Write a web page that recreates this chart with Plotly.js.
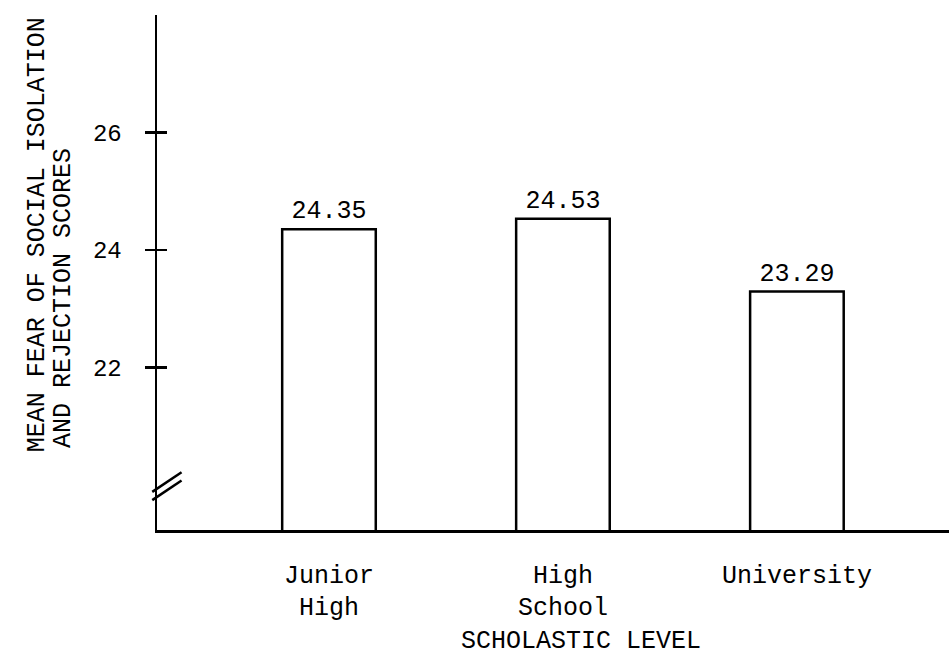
<!DOCTYPE html>
<html>
<head>
<meta charset="utf-8">
<script src="https://cdn.plot.ly/plotly-3.0.1.min.js"></script>
<style>html,body{margin:0;padding:0;background:#fff;}</style>
</head>
<body>
<div id="chart" style="width:949px;height:658px;"></div>
<script>
const categories = ["Junior<br>High", "High<br>School", "University"];
const meanScores = [24.35, 24.53, 23.29];
const valueLabels = ["24.35", "24.53", "23.29"];
const yTickValues = [22, 24, 26];
const yTickLabels = ["22", "24", "26"];

const FONT = "Liberation Mono, Courier New, monospace";
const yRange = [19.23, 28];

const trace = {
  type: "bar",
  x: categories,
  y: meanScores,
  text: valueLabels,
  textposition: "outside",
  textfont: {family: FONT, size: 25, color: "#000"},
  cliponaxis: false,
  marker: {color: "#fff", line: {color: "#000", width: 2.5}},
  hoverinfo: "skip"
};

const layout = {
  width: 949, height: 658,
  margin: {l: 157, r: 0, t: 15, b: 128},
  paper_bgcolor: "#fff", plot_bgcolor: "#fff",
  showlegend: false,
  bargap: 0.6,
  font: {family: FONT, color: "#000"},
  xaxis: {
    type: "category",
    range: [-0.735, 2.65],
    showline: true, linecolor: "#000", linewidth: 2.5,
    showgrid: false, zeroline: false, ticks: "",
    tickfont: {family: FONT, size: 25, color: "#000"},
    ticklabelstandoff: 20
  },
  yaxis: {
    range: yRange,
    showline: true, linecolor: "#000", linewidth: 2.5,
    showgrid: false, zeroline: false,
    tickmode: "array", tickvals: yTickValues, ticktext: yTickLabels,
    ticks: "outside", ticklen: 10, tickwidth: 2.5, tickcolor: "#000",
    tickfont: {family: FONT, size: 24, color: "#000"},
    ticklabelstandoff: 18
  },
  yaxis2: {
    overlaying: "y", range: yRange,
    showline: false, showgrid: false, zeroline: false,
    tickmode: "array", tickvals: yTickValues,
    ticks: "inside", ticklen: 10, tickwidth: 2.5, tickcolor: "#000",
    showticklabels: false
  },
  shapes: [
    {type: "line", xref: "paper", yref: "paper", x0: -0.006, x1: 0.031, y0: 0.074, y1: 0.112, line: {color: "#000", width: 2.5}},
    {type: "line", xref: "paper", yref: "paper", x0: -0.006, x1: 0.031, y0: 0.058, y1: 0.096, line: {color: "#000", width: 2.5}}
  ],
  annotations: [
    {text: "MEAN FEAR OF SOCIAL ISOLATION", textangle: -90, xref: "paper", yref: "paper",
     x: -0.151, y: 0.573, xanchor: "center", yanchor: "middle", showarrow: false,
     font: {family: FONT, size: 25, color: "#000"}},
    {text: "AND REJECTION SCORES", textangle: -90, xref: "paper", yref: "paper",
     x: -0.119, y: 0.45, xanchor: "center", yanchor: "middle", showarrow: false,
     font: {family: FONT, size: 25, color: "#000"}},
    {text: "SCHOLASTIC LEVEL", xref: "paper", yref: "paper",
     x: 0.535, y: -0.216, xanchor: "center", yanchor: "middle", showarrow: false,
     font: {family: FONT, size: 25, color: "#000"}}
  ]
};

const axisTicks = {type: "scatter", x: [], y: [], yaxis: "y2", hoverinfo: "skip", showlegend: false};

Plotly.newPlot("chart", [trace, axisTicks], layout, {displayModeBar: false, staticPlot: true});
</script>
</body>
</html>
